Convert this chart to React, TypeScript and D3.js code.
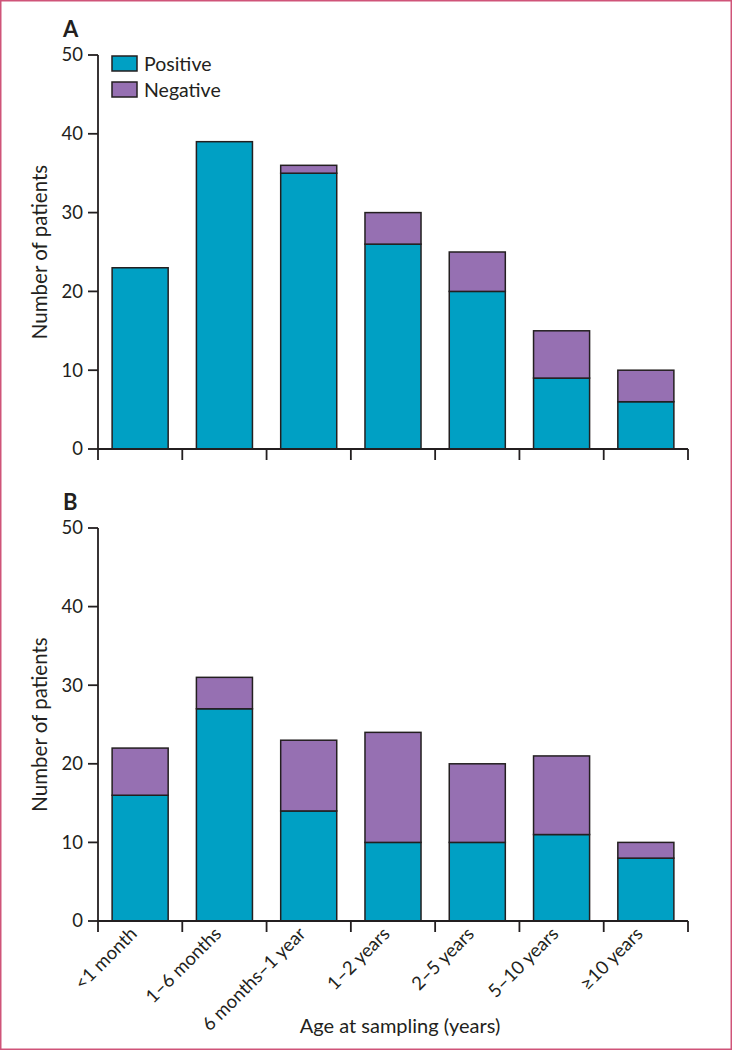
import React from "react";
import * as d3 from "d3";

const categories = ["<1 month", "1–6 months", "6 months–1 year", "1–2 years", "2–5 years", "5–10 years", "≥10 years"];
const positiveA = [23, 39, 35, 26, 20, 9, 6];
const negativeA = [0, 0, 1, 4, 5, 6, 4];
const positiveB = [16, 27, 14, 10, 10, 11, 8];
const negativeB = [6, 4, 9, 14, 10, 10, 2];
const yTicks = [0, 10, 20, 30, 40, 50];
const seriesNames = ["Positive", "Negative"];

const W = 732;
const H = 1050;
const FONT = "Lato, 'Open Sans', sans-serif";
const INK = "#231f20";
const COL_POS = "#00a0c4";
const COL_NEG = "#9670b2";

const x = d3.scaleBand<string>().domain(categories).range([98, 688]).paddingInner(0.335).paddingOuter(0.1675);

function Panel({ label, top, bottom, pos, neg, legend }: { label: string; top: number; bottom: number; pos: number[]; neg: number[]; legend?: boolean }) {
  const y = d3.scaleLinear().domain([0, 50]).range([bottom, top]);
  const x0 = 98;
  const x1 = 688;
  const ticksX = categories.map((c) => x(c)! - (x.step() * x.paddingInner()) / 2);
  ticksX.push(x1);
  return (
    <g>
      <text x={63} y={top - 18} fontFamily={FONT} fontWeight="bold" fontSize={22} fill={INK}>{label}</text>
      {categories.map((c, i) => {
        const bx = x(c)!;
        const bw = x.bandwidth();
        return (
          <g key={c}>
            <rect x={bx} y={y(pos[i])} width={bw} height={y(0) - y(pos[i])} fill={COL_POS} stroke={INK} strokeWidth={1.5} />
            {neg[i] > 0 && (
              <rect x={bx} y={y(pos[i] + neg[i])} width={bw} height={y(pos[i]) - y(pos[i] + neg[i])} fill={COL_NEG} stroke={INK} strokeWidth={1.5} />
            )}
          </g>
        );
      })}
      <line x1={x0} x2={x0} y1={y(50)} y2={y(0)} stroke={INK} strokeWidth={1.8} />
      <line x1={x0} x2={x1} y1={y(0)} y2={y(0)} stroke={INK} strokeWidth={1.8} />
      {yTicks.map((t) => (
        <g key={t}>
          <line x1={x0 - 10} x2={x0} y1={y(t)} y2={y(t)} stroke={INK} strokeWidth={1.8} />
          <text x={x0 - 15} y={y(t)} dy="0.35em" textAnchor="end" fontFamily={FONT} fontSize={18.5} fill={INK}>{t}</text>
        </g>
      ))}
      {ticksX.map((tx, i) => (
        <line key={i} x1={tx} x2={tx} y1={y(0)} y2={y(0) + 11} stroke={INK} strokeWidth={1.8} />
      ))}
      <text transform={`translate(47,${(top + bottom) / 2}) rotate(-90)`} textAnchor="middle" fontFamily={FONT} fontSize={20.5} fill={INK}>Number of patients</text>
      {legend && seriesNames.map((s, i) => (
        <g key={s}>
          <rect x={112} y={56 + i * 26} width={25} height={15} fill={i === 0 ? COL_POS : COL_NEG} stroke={INK} strokeWidth={1.5} />
          <text x={144} y={71 + i * 26} fontFamily={FONT} fontSize={19.5} fill={INK}>{s}</text>
        </g>
      ))}
    </g>
  );
}

export default function App() {
  return (
    <svg width={W} height={H} style={{ display: "block", position: "absolute", left: 0, top: 0 }}>
      <rect x={0} y={0} width={W} height={H} fill="#fff" />
      <rect x={0.75} y={0.75} width={W - 1.5} height={H - 1.5} fill="none" stroke="#cf5479" strokeWidth={1.5} />
      <Panel label="A" top={55} bottom={449} pos={positiveA} neg={negativeA} legend />
      <Panel label="B" top={528} bottom={921} pos={positiveB} neg={negativeB} />
      {categories.map((c) => (
        <text key={c} transform={`translate(${x(c)! + x.bandwidth() / 2 - 2},${935}) rotate(-45)`} textAnchor="end" fontFamily={FONT} fontSize={18.5} fill={INK}>{c}</text>
      ))}
      <text x={400} y={1033} textAnchor="middle" fontFamily={FONT} fontSize={20} fill={INK}>Age at sampling (years)</text>
    </svg>
  );
}
